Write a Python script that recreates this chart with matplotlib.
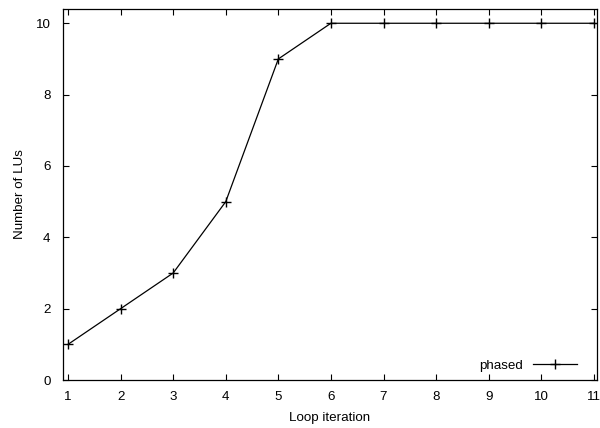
import matplotlib.pyplot as plt

# loop iterations and number of LUs
iterations = [1, 2, 3, 4, 5, 6, 7, 8, 9, 10, 11]
num_lus = [1, 2, 3, 5, 9, 10, 10, 10, 10, 10, 10]

plt.rcParams['font.family'] = ['Liberation Sans', 'DejaVu Sans']
plt.rcParams['font.size'] = 9.6

fig = plt.figure(figsize=(6, 4.28), dpi=100)
ax = fig.add_axes([0.105, 0.112, 0.89, 0.867])

ax.plot(iterations, num_lus, color='black', lw=0.9, marker='+',
        markersize=7.5, markeredgewidth=1.0, label='phased')

ax.set_xlim(0.905, 11.06)
ax.set_ylim(0, 10.4)
ax.set_xticks(iterations)
ax.set_yticks([0, 2, 4, 6, 8, 10])
ax.tick_params(direction='in', top=True, right=True, length=4, width=0.8)
ax.tick_params(axis='x', pad=8)
ax.tick_params(axis='y', pad=9)
for s in ax.spines.values():
    s.set_linewidth(0.9)

ax.set_xlabel('Loop iteration', labelpad=6)
ax.set_ylabel('Number of LUs', labelpad=7)

leg = ax.legend(loc='lower right', frameon=False, markerfirst=False,
                handlelength=3.3, borderaxespad=0.2, handletextpad=0.8,
                bbox_to_anchor=(0.978, 0.0))

fig.savefig('out.png', dpi=100)
